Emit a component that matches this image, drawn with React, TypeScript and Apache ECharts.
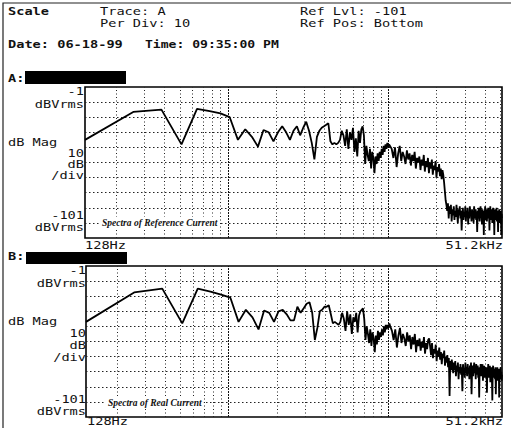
import React, { useEffect, useRef } from "react";
import * as echarts from "echarts";

// Analyzer settings: 400 lines, 128 Hz resolution, 128 Hz .. 51.2 kHz
const BIN_HZ = 128;
const F_MIN = 128;
const F_MAX = 51200;
const DB_MIN = -101;
const DB_MAX = -1;

// bins 1..80 (every bin)
const LOW_BIN_START = 1;
// bins 82..400 (every 2nd bin)
const HIGH_BIN_START = 82;
const HIGH_BIN_STEP = 2;

const refLowMag = [
  -36, -17.5, -16, -39, -15.5, -17, -18.5, -21, -36, -29,
  -34, -40.5, -29.5, -31, -37, -31, -27, -31, -36, -30,
  -27, -33, -28, -24, -30, -38, -49, -34, -30, -28,
  -27, -26, -25, -37, -39, -38, -39, -38, -36, -30,
  -33, -40, -29, -42, -31, -36, -28, -44, -35, -47,
  -30, -38, -29, -27, -33, -52, -40, -46, -50, -42,
  -55, -44, -48, -58, -47, -52, -45, -50, -44, -48,
  -42, -46, -40, -44, -39, -42, -38, -41, -39, -40,
];
const refHighMag = [
  -42, -48, -41, -54, -45, -40, -50, -44, -47, -52,
  -43, -49, -45, -53, -46, -50, -44, -55, -48, -51,
  -47, -56, -49, -53, -46, -57, -50, -54, -48, -58,
  -51, -55, -49, -59, -53, -56, -50, -61, -54, -57,
  -52, -60, -55, -62, -56, -59, -64, -70, -76, -79,
  -83, -78, -88, -80, -85, -79, -90, -82, -86, -80,
  -89, -83, -87, -79, -85, -91, -82, -86, -80, -88,
  -83, -96, -85, -81, -89, -84, -87, -80, -90, -83,
  -86, -81, -92, -84, -88, -80, -86, -83, -90, -82,
  -87, -84, -91, -80, -85, -88, -82, -89, -84, -97,
  -83, -88, -81, -86, -90, -84, -80, -87, -85, -92,
  -82, -88, -84, -99, -83, -86, -80, -89, -85, -82,
  -90, -84, -87, -81, -88, -83, -96, -85, -80, -89,
  -84, -87, -82, -91, -85, -81, -88, -83, -99, -86,
  -82, -89, -84, -87, -81, -90, -85, -83, -97, -84,
  -88, -82, -86, -91, -84, -87, -83, -99, -85, -88,
];
const realLowMag = [
  -38, -18.5, -16, -39, -16, -18, -20, -22, -38, -30,
  -35, -43, -30.5, -32, -38, -31, -30, -33, -37, -37,
  -28, -32, -29, -26, -25, -32, -50, -42, -31, -30,
  -28, -28, -27, -33, -39, -38, -39, -40, -38, -32,
  -36, -44, -31, -40, -33, -46, -35, -38, -32, -45,
  -34, -31, -30, -29, -36, -50, -41, -46, -52, -43,
  -54, -45, -49, -58, -47, -53, -44, -50, -45, -48,
  -43, -47, -41, -45, -40, -43, -40, -42, -39, -41,
];
const realHighMag = [
  -44, -50, -43, -55, -47, -42, -52, -46, -49, -54,
  -45, -51, -47, -56, -48, -53, -46, -58, -50, -54,
  -49, -57, -51, -55, -48, -59, -52, -56, -50, -49,
  -54, -60, -52, -62, -56, -59, -53, -64, -57, -61,
  -55, -63, -58, -66, -59, -62, -57, -67, -61, -65,
  -60, -68, -62, -87, -64, -70, -63, -67, -72, -65,
  -70, -64, -74, -67, -71, -65, -76, -68, -72, -66,
  -73, -68, -84, -66, -71, -69, -75, -65, -72, -68,
  -74, -66, -71, -69, -76, -67, -72, -65, -86, -70,
  -67, -74, -69, -65, -72, -68, -76, -66, -73, -70,
  -67, -75, -69, -88, -68, -73, -66, -74, -70, -72,
  -66, -77, -69, -73, -67, -75, -70, -68, -74, -71,
  -85, -68, -73, -66, -75, -70, -72, -67, -78, -69,
  -74, -68, -76, -90, -71, -67, -75, -69, -73, -70,
  -76, -68, -86, -72, -70, -75, -68, -77, -71, -74,
  -69, -88, -73, -70, -76, -68, -74, -71, -77, -73,
];

const gridFreqs = [200, 300, 400, 500, 600, 700, 800, 900, 2000, 3000, 4000, 5000, 6000, 7000, 8000, 9000, 20000, 30000, 40000, 50000];
const decadeFreqs = [1000, 10000];
const gridDbs = [-91, -81, -71, -61, -51, -41, -31, -21, -11];

function toPoints(low: number[], high: number[]) {
  const pts: number[][] = [];
  low.forEach((v, i) => pts.push([(LOW_BIN_START + i) * BIN_HZ, v]));
  high.forEach((v, i) => pts.push([(HIGH_BIN_START + i * HIGH_BIN_STEP) * BIN_HZ, v]));
  return pts;
}

const MONO = "'DejaVu Sans Mono', 'Liberation Mono', monospace";
const SX = 1.24;

function txt(text: string, x: number, y: number, opts: any = {}) {
  return {
    type: "text",
    x,
    y,
    scaleX: opts.scaleX ?? SX,
    z: 100,
    style: {
      text,
      fill: "#111",
      font: `${opts.bold ? "bold " : ""}${opts.size ?? 11}px ${MONO}`,
      textAlign: opts.align ?? "left",
      textVerticalAlign: "middle",
    },
  };
}

function gridLines() {
  const dotted = { type: [1, 2.5], width: 1, color: "#222" };
  const dense = { type: [2, 1], width: 1, color: "#111" };
  const horiz = { type: [1.5, 2.5], width: 1, color: "#222" };
  return [
    ...gridFreqs.map((f) => ({ xAxis: f, lineStyle: dotted })),
    ...decadeFreqs.map((f) => ({ xAxis: f, lineStyle: dense })),
    ...gridDbs.map((d) => ({ yAxis: d, lineStyle: horiz })),
  ];
}

export default function App() {
  const ref = useRef<HTMLDivElement>(null);
  useEffect(() => {
    if (!ref.current) return;
    const chart = echarts.init(ref.current, null, { renderer: "svg" });
    const grids = [
      { left: 85, top: 87, width: 417, height: 151 },
      { left: 86, top: 266, width: 416, height: 151 },
    ].map((g) => ({
      ...g,
      show: true,
      borderColor: "#000",
      borderWidth: 1.6,
      backgroundColor: "transparent",
    }));
    const xAxis = [0, 1].map((i) => ({
      type: "log",
      logBase: 10,
      gridIndex: i,
      min: F_MIN,
      max: F_MAX,
      axisLine: { show: false },
      axisTick: { show: false },
      axisLabel: { show: false },
      splitLine: { show: false },
    }));
    const yAxis = [0, 1].map((i) => ({
      type: "value",
      gridIndex: i,
      min: DB_MIN,
      max: DB_MAX,
      axisLine: { show: false },
      axisTick: { show: false },
      axisLabel: { show: false },
      splitLine: { show: false },
    }));
    const mkSeries = (i: number, data: number[][]) => ({
      type: "line",
      xAxisIndex: i,
      yAxisIndex: i,
      data,
      showSymbol: false,
      symbol: "none",
      lineStyle: { color: "#000", width: 1.8 },
      z: 5,
      markLine: {
        silent: true,
        symbol: ["none", "none"],
        label: { show: false },
        animation: false,
        data: gridLines(),
      },
    });

    const italic = "italic bold 9.5px 'Liberation Serif', serif";
    const graphic: any[] = [
      // outer frame
      { type: "polyline", z: 50, shape: { points: [[3, 428], [3, 3], [511, 3]] }, style: { stroke: "#222", lineWidth: 1.2, fill: "none" } },
      // header
      txt("Scale", 8, 11, { bold: true }),
      txt("Trace: A", 100, 11),
      txt("Per Div: 10", 100, 23),
      txt("Ref Lvl: -101", 300, 11),
      txt("Ref Pos: Bottom", 300, 23),
      txt("Date: 06-18-99", 8, 44, { bold: true }),
      txt("Time: 09:35:00 PM", 145, 44, { bold: true, scaleX: 1.19 }),
      // panel A
      txt("A:", 8, 78, { bold: true }),
      { type: "rect", z: 50, shape: { x: 25, y: 71, width: 101, height: 13 }, style: { fill: "#000" } },
      txt("-1", 84, 91.5, { align: "right" }),
      txt("dBVrms", 84, 104, { align: "right" }),
      txt("dB Mag", 8, 142.5),
      txt("10", 84, 153, { align: "right" }),
      txt("dB", 84, 164, { align: "right" }),
      txt("/div", 84, 175.5, { align: "right" }),
      txt("-101", 84, 215.5, { align: "right" }),
      txt("dBVrms", 84, 227.5, { align: "right" }),
      txt("128Hz", 85, 245),
      txt("51.2kHz", 503, 245, { align: "right" }),
      {
        type: "text", x: 100, y: 222.5, z: 100,
        style: {
          text: "Spectra of Reference Current",
          fill: "#111",
          font: italic,
          textVerticalAlign: "middle",
          backgroundColor: "#fff",
          padding: [1, 2],
        },
      },
      // panel B
      txt("B:", 8, 256, { bold: true }),
      { type: "rect", z: 50, shape: { x: 26, y: 252, width: 101, height: 12 }, style: { fill: "#000" } },
      txt("-1", 86, 270.5, { align: "right" }),
      txt("dBVrms", 86, 283, { align: "right" }),
      txt("dB Mag", 8, 321),
      txt("10", 86, 333.5, { align: "right" }),
      txt("dB", 86, 345.5, { align: "right" }),
      txt("/div", 86, 357.5, { align: "right" }),
      txt("-101", 86, 399, { align: "right" }),
      txt("dBVrms", 86, 411, { align: "right" }),
      txt("128Hz", 87, 421),
      txt("51.2kHz", 503, 421, { align: "right" }),
      {
        type: "text", x: 106, y: 402.5, z: 100,
        style: {
          text: "Spectra of Real Current",
          fill: "#111",
          font: italic,
          textVerticalAlign: "middle",
          backgroundColor: "#fff",
          padding: [1, 2],
        },
      },
    ];

    chart.setOption({
      animation: false,
      backgroundColor: "#fff",
      grid: grids,
      xAxis,
      yAxis,
      series: [mkSeries(0, toPoints(refLowMag, refHighMag)), mkSeries(1, toPoints(realLowMag, realHighMag))],
      graphic,
    });
    return () => chart.dispose();
  }, []);
  return <div ref={ref} style={{ position: "absolute", left: 0, top: 0, width: 511, height: 428 }} />;
}
